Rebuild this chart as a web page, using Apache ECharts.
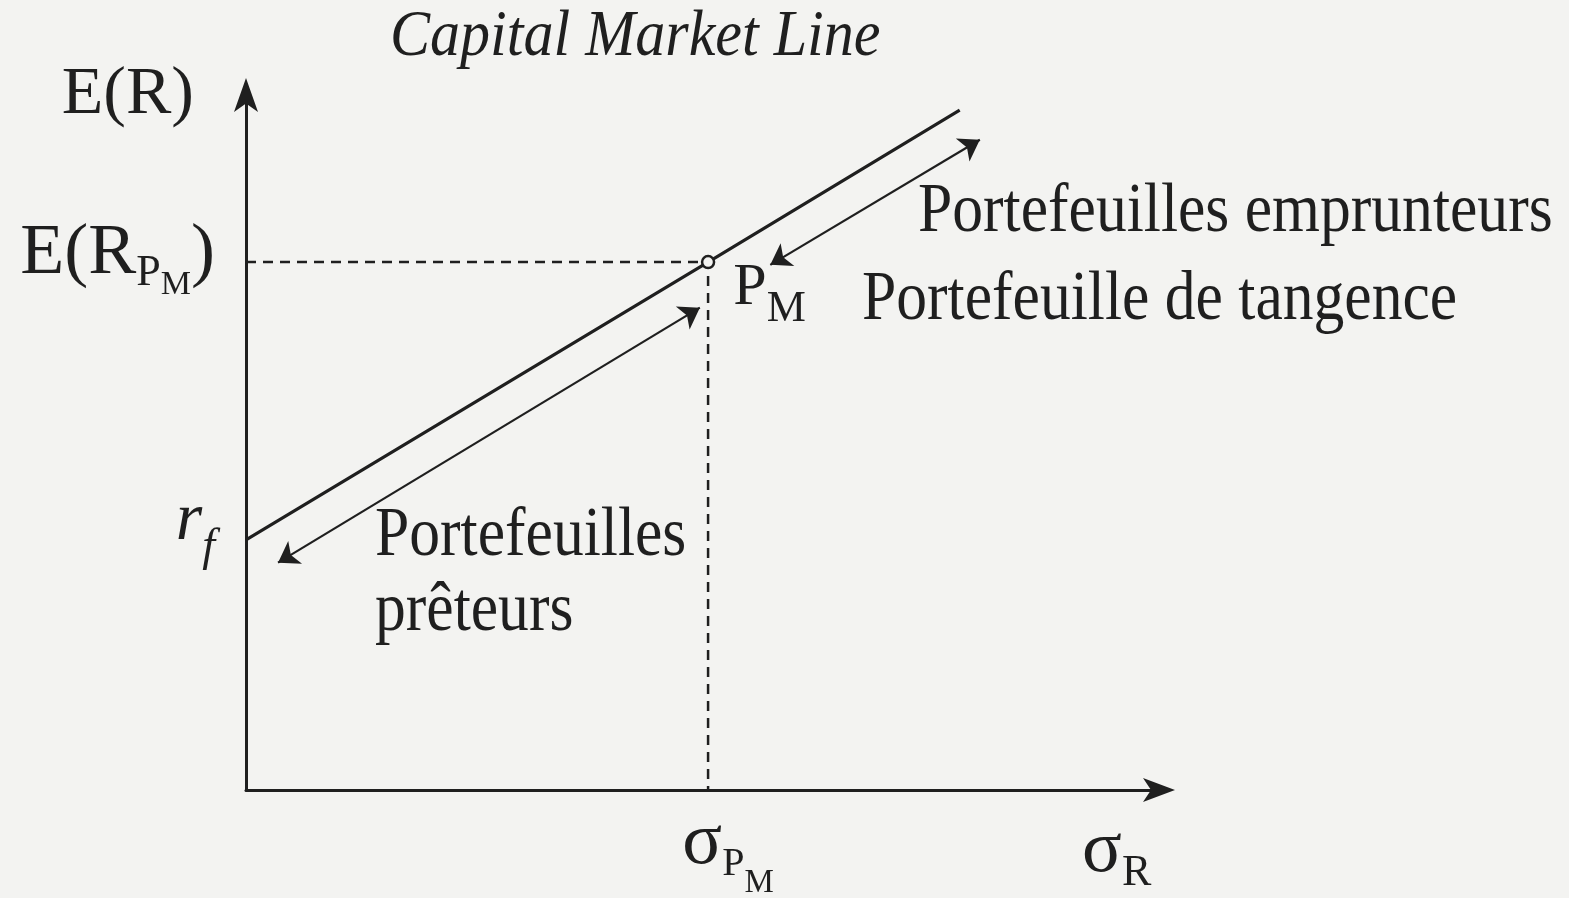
<!DOCTYPE html>
<html>
<head>
<meta charset="utf-8">
<script src="https://cdn.jsdelivr.net/npm/echarts@6/dist/echarts.min.js"></script>
<style>
html, body { margin: 0; padding: 0; background: #f3f3f1; }
#chart { width: 1569px; height: 898px; }
</style>
</head>
<body>
<div id="chart"></div>
<script>
const chart = echarts.init(document.getElementById('chart'));

// values in axis units (both axes run 0 - 100)
const riskFree = 36.2;
const marketSigma = 50.5;
const marketReturn = 76.4;
// capital market line: rf -> P_M -> end of drawn segment
const cmlPoints = [[0, 36.2], [50.5, 76.4], [78.0, 98.4]];
// guide lines to the market portfolio
const guidePoints = [[0, 76.4], [50.5, 76.4], [50.5, 0]];
// double headed arrows along the line
const lenderArrow = [[3.5, 32.9], [49.6, 69.8]];
const borrowerArrow = [[57.3, 76.0], [80.2, 94.1]];
// tick labels
const yTickValues = [riskFree, marketReturn];
const xTickValues = [marketSigma];

const ink = '#1f1f1f';
const bg = '#f3f3f1';
const serif = 'Liberation Serif';

// rich styles for a line with subscripts; parts: name -> [size, drop, italic, leftPad]
// topPad: space above main glyph, shift: main glyph raised above label centre
function richLine(mainSize, parts, topPad, shift, centred) {
    const base = topPad + 0.84 * mainSize;
    const out = {};
    let need = 0;
    Object.keys(parts).forEach(k => {
        const p = parts[k];
        const t = base + p[1] - 0.84 * p[0];
        need = Math.max(need, t + p[0]);
        out[k] = { t: t, size: p[0], italic: p[2], left: p[3] || 0 };
    });
    const H = centred ? Math.max(2 * (topPad + mainSize / 2 + shift), need) : need;
    const rich = {};
    Object.keys(out).forEach(k => {
        const o = out[k];
        rich[k] = {
            fontFamily: serif,
            fontSize: o.size,
            lineHeight: o.size,
            fontStyle: o.italic ? 'italic' : 'normal',
            color: ink,
            padding: [o.t, 0, H - o.t - o.size, o.left]
        };
    });
    return rich;
}

function textItem(txt, x, y, size, italic, sx) {
    return {
        type: 'text',
        x: x,
        y: y,
        scaleX: sx,
        style: {
            text: txt,
            fill: ink,
            font: (italic ? 'italic ' : '') + size + 'px "' + serif + '"',
            textAlign: 'left',
            textVerticalAlign: 'middle'
        }
    };
}

const yRichMarket = richLine(72, { n: [72, 0], s: [44, 10], ss: [34, 18] }, 40, 8, true);
const yRichRf = richLine(68, { it: [68, 0, true], its: [46, 20, true] }, 40, 19, true);
const xRichMarket = richLine(74, { g: [74, 0, false, 40], s: [40, 10], ss: [33, 26] }, 0, 0, false);
const xRichName = richLine(74, { g: [74, 0], s: [44, 12] }, 0, 0, false);
const pmRich = richLine(60, { n: [60, 0], s: [44, 16] }, 40, 0, true);

const option = {
    animation: false,
    backgroundColor: bg,
    grid: {
        left: 246,
        right: 408,
        top: 99,
        bottom: 108,
        containLabel: false,
        outerBoundsMode: 'none'
    },
    xAxis: {
        type: 'value',
        min: 0,
        max: 100,
        splitLine: { show: false },
        axisTick: { show: false },
        axisLine: {
            show: true,
            onZero: false,
            symbol: ['none', 'arrow'],
            symbolSize: [18, 32],
            symbolOffset: [0, 14],
            lineStyle: { color: ink, width: 3 }
        },
        axisLabel: {
            customValues: xTickValues,
            margin: 26,
            formatter: function () {
                return '{g|σ}{s|P}{ss|M}';
            },
            rich: xRichMarket
        },
        name: '{g|σ}{s|R}',
        nameLocation: 'end',
        nameGap: -79,
        nameTextStyle: {
            align: 'left',
            verticalAlign: 'top',
            padding: [28, 0, 0, 0],
            rich: xRichName
        }
    },
    yAxis: {
        type: 'value',
        min: 0,
        max: 100,
        splitLine: { show: false },
        axisTick: { show: false },
        axisLine: {
            show: true,
            onZero: false,
            symbol: ['none', 'arrow'],
            symbolSize: [18, 34],
            symbolOffset: [0, 21],
            lineStyle: { color: ink, width: 3 }
        },
        axisLabel: {
            customValues: yTickValues,
            margin: 31,
            formatter: function (v) {
                if (Math.abs(v - riskFree) < 0.01) return '{it|r}{its|f}';
                return '{n|E(R}{s|P}{ss|M}{n|)}';
            },
            rich: Object.assign({}, yRichMarket, yRichRf)
        },
        name: 'E(R)',
        nameLocation: 'end',
        nameGap: 4,
        nameTextStyle: {
            fontFamily: serif,
            fontSize: 68,
            color: ink,
            align: 'right',
            verticalAlign: 'middle',
            padding: [0, 52, 0, 0]
        }
    },
    series: [
        {
            type: 'line',
            data: guidePoints,
            showSymbol: false,
            silent: true,
            lineStyle: { color: ink, width: 2.5, type: [10, 7] },
            z: 2
        },
        {
            type: 'line',
            data: cmlPoints,
            showSymbol: false,
            silent: true,
            lineStyle: { color: ink, width: 3.2 },
            z: 3
        },
        {
            type: 'lines',
            coordinateSystem: 'cartesian2d',
            symbol: ['arrow', 'arrow'],
            symbolSize: 20,
            lineStyle: { color: ink, width: 2.2, opacity: 1 },
            data: [{ coords: lenderArrow }, { coords: borrowerArrow }],
            z: 3
        },
        {
            type: 'scatter',
            data: [[marketSigma, marketReturn]],
            symbol: 'circle',
            symbolSize: 12,
            itemStyle: { color: bg, borderColor: ink, borderWidth: 2.5, opacity: 1 },
            label: {
                show: true,
                position: 'right',
                distance: 18,
                offset: [0, 26],
                formatter: '{n|P}{s|M}',
                rich: pmRich
            },
            z: 5
        }
    ],
    graphic: [
        textItem('Capital Market Line', 390, 38, 66, true, 0.91),
        textItem('Portefeuilles emprunteurs', 918, 213, 70, false, 0.88),
        textItem('Portefeuille de tangence', 862, 301, 70, false, 0.88),
        textItem('Portefeuilles', 375, 537, 70, false, 0.88),
        textItem('prêteurs', 375, 612, 70, false, 0.88)
    ]
};

chart.setOption(option);
</script>
</body>
</html>
